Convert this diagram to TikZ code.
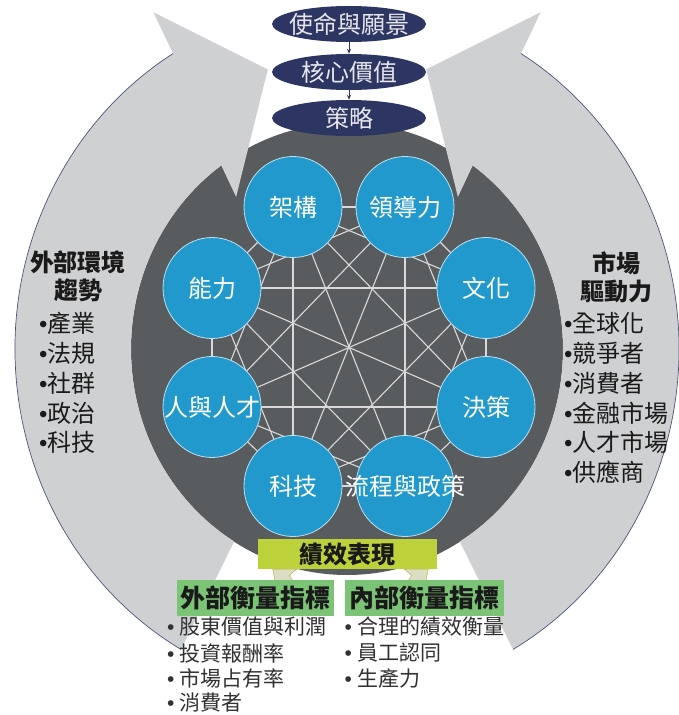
\documentclass[tikz,border=0pt]{standalone}
\usepackage{fontspec}
\setmainfont{Noto Sans CJK TC}
\newfontfamily\bulfont{Liberation Sans}
\usetikzlibrary{shapes.geometric,arrows.meta}
\definecolor{navy}{HTML}{2D3563}
\definecolor{bandgray}{HTML}{CFD0D2}
\definecolor{hubgray}{HTML}{595C5F}
\definecolor{nodeblue}{HTML}{2299CC}
\definecolor{perfyellow}{HTML}{BDD13B}
\definecolor{kpigreen}{HTML}{7BC476}
\definecolor{khaki}{HTML}{DCDEC4}
\definecolor{inkc}{HTML}{1A1A1A}
\newcommand\fsz[1]{\fontsize{#1}{#1}\selectfont}
\newcommand\bul{{\bulfont •}}
\begin{document}
\begin{tikzpicture}[x=1pt,y=1pt,
  topell/.style={ellipse, fill=navy, minimum width=154, minimum height=36, inner sep=0},
  toplabel/.style={text=white!88!navy, font=\fsz{24}, inner sep=0},
  toparrow/.style={draw=navy, line width=0.8pt, -{Stealth[length=5pt,width=4pt]}},
  hubnode/.style={ellipse, fill=hubgray, minimum width=432, minimum height=452, inner sep=0},
  bluenode/.style={ellipse, fill=nodeblue, draw=white!70!nodeblue, line width=0.8pt, minimum width=98, minimum height=101, inner sep=0},
  bluelabel/.style={text=white, font=\fsz{24}, inner sep=0},
  netline/.style={draw=white!85!black, line width=1.1pt},
  rimline/.style={draw=navy!85, line width=0.7pt},
  pointer/.style={fill=khaki, draw=olive!60, line width=0.5pt},
  perfbox/.style={fill=perfyellow, minimum width=179, minimum height=30, inner sep=0, font=\fsz{24}\bfseries, text=inkc},
  kpibox/.style={fill=kpigreen, minimum width=157, minimum height=36, inner sep=0, font=\fsz{25}\bfseries, text=inkc},
  sidetitle/.style={font=\fsz{24}\bfseries, text=inkc, inner sep=0},
  sideitem/.style={font=\fsz{24}, text=inkc, anchor=west, inner sep=0},
  kpiitem/.style={font=\fsz{21}, text=inkc!90, anchor=west, inner sep=0}
]
\useasboundingbox (0,0) rectangle (678,-715);

% central hub
\node[hubnode] (hub) at (347,-349) {};

% circular gray arrows
\begin{scope}[shift={(347,-349)}, yscale=1.045]
  \fill[bandgray] (240:332) arc[start angle=240, end angle=121.6, radius=332]
     -- (121:376) -- (106.5:279) -- (127.3:183) -- (125.6:216)
     arc[start angle=125.6, end angle=238.5, radius=216] -- cycle;
  \draw[rimline] (240:332) arc[start angle=240, end angle=121.6, radius=332];
  \fill[bandgray] (-60:332) arc[start angle=-60, end angle=58.4, radius=332]
     -- (59:376) -- (73.5:279) -- (52.7:183) -- (54.4:216)
     arc[start angle=54.4, end angle=-58.5, radius=216] -- cycle;
  \draw[rimline] (-60:332) arc[start angle=-60, end angle=58.4, radius=332];
\end{scope}

% network
\coordinate (p1) at (293,-207);
\coordinate (p2) at (405,-207);
\coordinate (p3) at (486,-288);
\coordinate (p4) at (486,-407);
\coordinate (p5) at (405,-486);
\coordinate (p6) at (293,-486);
\coordinate (p7) at (212,-407);
\coordinate (p8) at (212,-288);
\foreach \i in {1,...,7}{
  \pgfmathtruncatemacro\jstart{\i+1}
  \foreach \j in {\jstart,...,8}{\draw[netline] (p\i) -- (p\j);}
}
\node[bluenode, label={[bluelabel]center:架構}] (n1) at (p1) {};
\node[bluenode, label={[bluelabel]center:領導力}] (n2) at (p2) {};
\node[bluenode, label={[bluelabel]center:文化}] (n3) at (p3) {};
\node[bluenode, label={[bluelabel]center:決策}] (n4) at (p4) {};
\node[bluenode, label={[bluelabel]center:流程與政策}] (n5) at (p5) {};
\node[bluenode, label={[bluelabel]center:科技}] (n6) at (p6) {};
\node[bluenode, label={[bluelabel]center:人與人才}] (n7) at (p7) {};
\node[bluenode, label={[bluelabel]center:能力}] (n8) at (p8) {};

% top ellipses
\node[topell, label={[toplabel]center:使命與願景}] (e1) at (349,-24) {};
\node[topell, label={[toplabel]center:核心價值}] (e2) at (349,-72) {};
\node[topell, label={[toplabel]center:策略}] (e3) at (349,-118) {};
\draw[toparrow] (e1) -- (e2);
\draw[toparrow] (e2) -- (e3);

% pointers
\filldraw[pointer] (272.7,-569) -- (296.7,-569) -- (289.3,-575.5) -- (292.7,-580.5) -- (275,-580.5) -- cycle;
\filldraw[pointer] (404.3,-569) -- (428.3,-569) -- (426,-580.5) -- (408.3,-580.5) -- (411.7,-575.5) -- cycle;

% performance boxes
\node[perfbox] (perf) at (347.5,-554) {績效表現};
\node[kpibox] (ext) at (255.5,-598) {外部衡量指標};
\node[kpibox, minimum width=159] (int) at (424.5,-598) {內部衡量指標};

% left side text
\node[sidetitle] (lt1) at (78,-262) {外部環境};
\node[sidetitle] (lt2) at (78,-290) {趨勢};
\node[sideitem] (li1) at (39,-323) {\bul 產業};
\node[sideitem] (li2) at (39,-353) {\bul 法規};
\node[sideitem] (li3) at (39,-383) {\bul 社群};
\node[sideitem] (li4) at (39,-413) {\bul 政治};
\node[sideitem] (li5) at (39,-442) {\bul 科技};

% right side text
\node[sidetitle] (rt1) at (616,-263) {市場};
\node[sidetitle] (rt2) at (616,-292) {驅動力};
\node[sideitem] (ri1) at (564,-323) {\bul 全球化};
\node[sideitem] (ri2) at (564,-353) {\bul 競爭者};
\node[sideitem] (ri3) at (564,-383) {\bul 消費者};
\node[sideitem] (ri4) at (564,-413) {\bul 金融市場};
\node[sideitem] (ri5) at (564,-442) {\bul 人才市場};
\node[sideitem] (ri6) at (564,-472) {\bul 供應商};

% KPI lists
\node[kpiitem] (ei1) at (167,-627) {\bul\hspace{5pt}股東價值與利潤};
\node[kpiitem] (ei2) at (167,-653) {\bul\hspace{5pt}投資報酬率};
\node[kpiitem] (ei3) at (167,-678.5) {\bul\hspace{5pt}市場占有率};
\node[kpiitem] (ei4) at (167,-703) {\bul\hspace{5pt}消費者};
\node[kpiitem] (ii1) at (344.5,-627) {\bul\hspace{5pt}合理的績效衡量};
\node[kpiitem] (ii2) at (344.5,-653) {\bul\hspace{5pt}員工認同};
\node[kpiitem] (ii3) at (344.5,-678.5) {\bul\hspace{5pt}生產力};
\end{tikzpicture}
\end{document}
